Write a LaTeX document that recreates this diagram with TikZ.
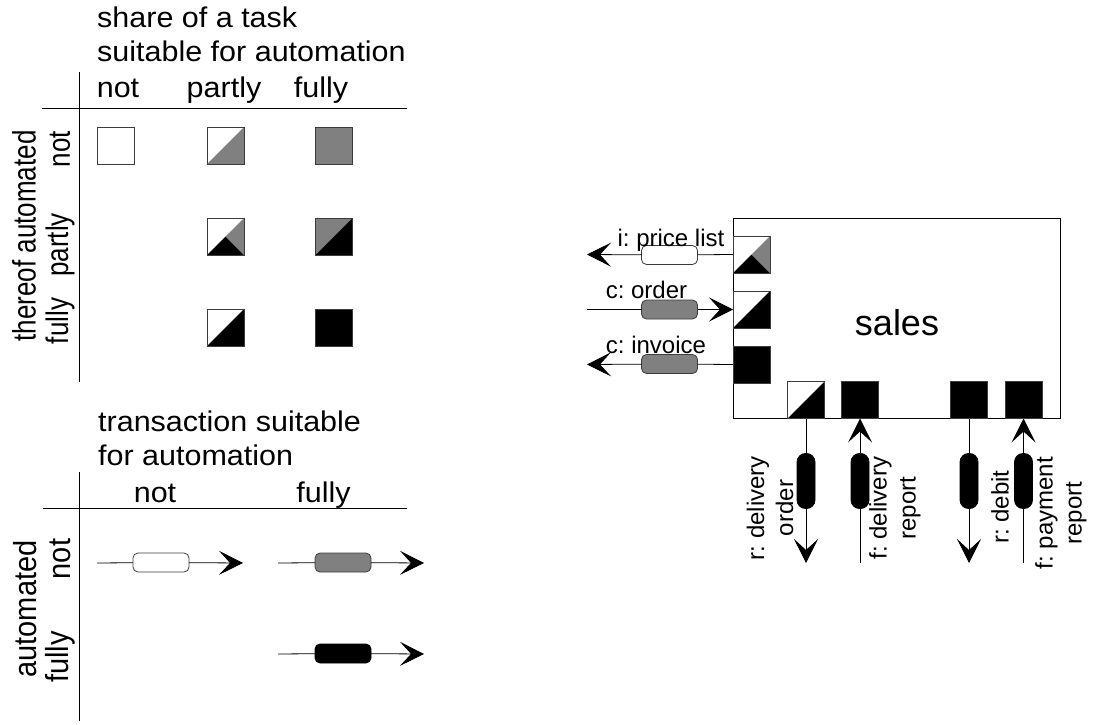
\documentclass[tikz,border=0pt]{standalone}
\usepackage{graphicx}
\usepackage{fontspec}
\setmainfont{Liberation Sans}
\newfontfamily\legendwide[FakeStretch=1.07]{Liberation Sans}
\usetikzlibrary{arrows.meta}
\definecolor{midgray}{RGB}{128,128,128}
\definecolor{edgegray}{RGB}{60,60,60}

% tile fillings: split along the rising diagonal, or in three triangles
\newcommand\tilesplit[3]{%
  \fill[#2] (#1.south west) -- (#1.north west) -- (#1.north east) -- cycle;
  \fill[#3] (#1.south west) -- (#1.south east) -- (#1.north east) -- cycle;
  \draw[tileframe] (#1.south west) rectangle (#1.north east);}
\newcommand\tilethree[1]{%
  \fill[white] (#1.south west) -- (#1.north west) -- (#1.north east) -- cycle;
  \fill[black] (#1.south west) -- (#1.center) -- (#1.south east) -- cycle;
  \fill[midgray] (#1.center) -- (#1.north east) -- (#1.south east) -- cycle;
  \draw[tileframe] (#1.south west) rectangle (#1.north east);}
\newcommand\tilesolid[2]{%
  \fill[#2] (#1.south west) rectangle (#1.north east);
  \draw[tileframe] (#1.south west) rectangle (#1.north east);}
% upright text widened across the reading direction
\newcommand\thick[2]{\scalebox{1}[#1]{#2}}

\tikzset{
  tile/.style={rectangle, minimum size=37pt, inner sep=0pt, outer sep=0pt},
  tileframe/.style={draw=edgegray, line width=0.9pt},
  caph/.style={rectangle, rounded corners=5pt, minimum width=56pt, minimum height=19pt,
    inner sep=0pt, outer sep=0pt, draw=edgegray, line width=0.8pt},
  capv/.style={rectangle, rounded corners=8.5pt, minimum width=18pt, minimum height=55pt,
    inner sep=0pt, outer sep=0pt, draw=black, line width=0.8pt, fill=black},
  flow/.style={line width=0.8pt, -{Stealth[length=24pt,width=24pt,inset=11pt]}},
  axis/.style={line width=0.9pt},
  hdA/.style={font=\legendwide\fontsize{28.5}{34}\selectfont, inner sep=0pt},
  hdR/.style={font=\fontsize{26}{30}\selectfont, inner sep=0pt, rotate=90},
  hdRB/.style={font=\fontsize{29}{33}\selectfont, inner sep=0pt, rotate=90},
  lbl/.style={font=\fontsize{24}{29}\selectfont, inner sep=0pt},
}

\begin{document}
\frenchspacing
\begin{tikzpicture}[x=1pt, y=-1pt]
\useasboundingbox (0,0) rectangle (1093,725);

% ---------- legend: tasks ----------
\node[hdA, align=left, anchor=base west] (taskhead) at (97,62) {share of a task\\suitable for automation};
\node[hdA, anchor=base] (cnot)    at (118,98) {not};
\node[hdA, anchor=base] (cpartly) at (224,98) {partly};
\node[hdA, anchor=base] (cfully)  at (321,98) {fully};
\coordinate (tAx1) at (42,108);  \coordinate (tAx2) at (407,108);
\coordinate (tAy1) at (79,72);   \coordinate (tAy2) at (79,382);
\draw[axis] (tAx1) -- (tAx2);
\draw[axis] (tAy1) -- (tAy2);
\node[hdR] (rowhead) at (24,236) {\thick{1.25}{thereof automated}};
\node[hdR] (rnot)    at (60,149) {\thick{1.2}{not}};
\node[hdR] (rpartly) at (60,245) {\thick{1.2}{partly}};
\node[hdR] (rfully)  at (60,321) {\thick{1.2}{fully}};

\node[tile] (t11) at (116,145.5) {};
\node[tile] (t21) at (225.5,145.5) {};
\node[tile] (t31) at (334,145.5) {};
\node[tile] (t22) at (225.5,236.5) {};
\node[tile] (t32) at (334,236.5) {};
\node[tile] (t23) at (225.5,327.5) {};
\node[tile] (t33) at (334,327.5) {};
\tilesolid{t11}{white}
\tilesplit{t21}{white}{midgray}
\tilesolid{t31}{midgray}
\tilethree{t22}
\tilesplit{t32}{midgray}{black}
\tilesplit{t23}{white}{black}
\tilesolid{t33}{black}

% ---------- legend: transactions ----------
\node[hdA, align=left, anchor=base west] (trhead) at (98,465) {transaction suitable\\for automation};
\node[hdA, anchor=base] (tcnot)   at (155,502) {not};
\node[hdA, anchor=base] (tcfully) at (323.5,502) {fully};
\coordinate (bAx1) at (43,508);  \coordinate (bAx2) at (407,508);
\coordinate (bAy1) at (79,472);  \coordinate (bAy2) at (79,721);
\draw[axis] (bAx1) -- (bAx2);
\draw[axis] (bAy1) -- (bAy2);
\node[hdRB] (trrow)   at (25,609) {\thick{1.1}{automated}};
\node[hdRB] (trnot)   at (60,559) {\thick{1.1}{not}};
\node[hdRB] (trfully) at (60,657) {\thick{1.1}{fully}};

\coordinate (a1s) at (97,563);  \coordinate (a1e) at (243,563);
\coordinate (a2s) at (278,563); \coordinate (a2e) at (424,563);
\coordinate (a3s) at (278,654); \coordinate (a3e) at (424,654);
\node[caph, fill=white]   (c1) at (161,562.5) {};
\node[caph, fill=midgray] (c2) at (343,562.5) {};
\node[caph, fill=black, draw=black] (c3) at (343,653.5) {};
\draw[flow] (a1s) -- (c1) -- (a1e);
\draw[flow] (a2s) -- (c2) -- (a2e);
\draw[flow] (a3s) -- (c3) -- (a3e);

% ---------- sales function ----------
\node[draw, line width=0.9pt, minimum width=327pt, minimum height=200pt, inner sep=0pt,
      anchor=north west] (sales) at (733,218) {};
\node[font=\fontsize{36}{40}\selectfont, inner sep=0pt] (salestxt) at (897,323) {sales};

\node[tile] (L1) at (751.5,254.5) {};
\node[tile] (L2) at (751.5,309.5) {};
\node[tile] (L3) at (751.5,364.5) {};
\node[tile] (B1) at (806,400) {};
\node[tile] (B2) at (860,400) {};
\node[tile] (B3) at (969,400) {};
\node[tile] (B4) at (1023.5,400) {};
\tilethree{L1}
\tilesplit{L2}{white}{black}
\tilesolid{L3}{black}
\tilesplit{B1}{white}{black}
\tilesolid{B2}{black}
\tilesolid{B3}{black}
\tilesolid{B4}{black}

% incoming and outgoing transactions on the left
\coordinate (plE) at (587,254.5);
\coordinate (orS) at (587,309.5);
\coordinate (inE) at (587,364.5);
\node[caph, fill=white]   (plc) at (669.5,255) {};
\node[caph, fill=midgray] (orc) at (669.5,309.5) {};
\node[caph, fill=midgray] (inc) at (669.5,364) {};
\draw[flow] (L1.west) -- (plc) -- (plE);
\draw[flow] (orS) -- (orc) -- (L2.west);
\draw[flow] (L3.west) -- (inc) -- (inE);
\node[lbl, anchor=base] (pltxt) at (671,246) {i: price list};
\node[lbl, anchor=base] (ortxt) at (646.5,298) {c: order};
\node[lbl, anchor=base] (intxt) at (656,353) {c: invoice};

% transactions at the bottom
\coordinate (d1) at (806,563);
\coordinate (d2) at (860,563);
\coordinate (d3) at (969,563);
\coordinate (d4) at (1023.5,563);
\node[capv] (v1) at (806,481) {};
\node[capv] (v2) at (860,481) {};
\node[capv] (v3) at (969,481) {};
\node[capv] (v4) at (1023.5,481) {};
\draw[flow] (B1.south) -- (v1) -- (d1);
\draw[flow] (d2) -- (v2) -- (B2.south);
\draw[flow] (B3.south) -- (v3) -- (d3);
\draw[flow] (d4) -- (v4) -- (B4.south);
\node[lbl, rotate=90, align=center] (v1txt) at (770,508) {r: delivery\\order};
\node[lbl, rotate=90, align=center] (v2txt) at (895,508) {f: delivery\\report};
\node[lbl, rotate=90] (v3txt) at (1000,507) {r: debit};
\node[lbl, rotate=90, align=center] (v4txt) at (1061,513) {f: payment\\report};
\end{tikzpicture}
\end{document}
